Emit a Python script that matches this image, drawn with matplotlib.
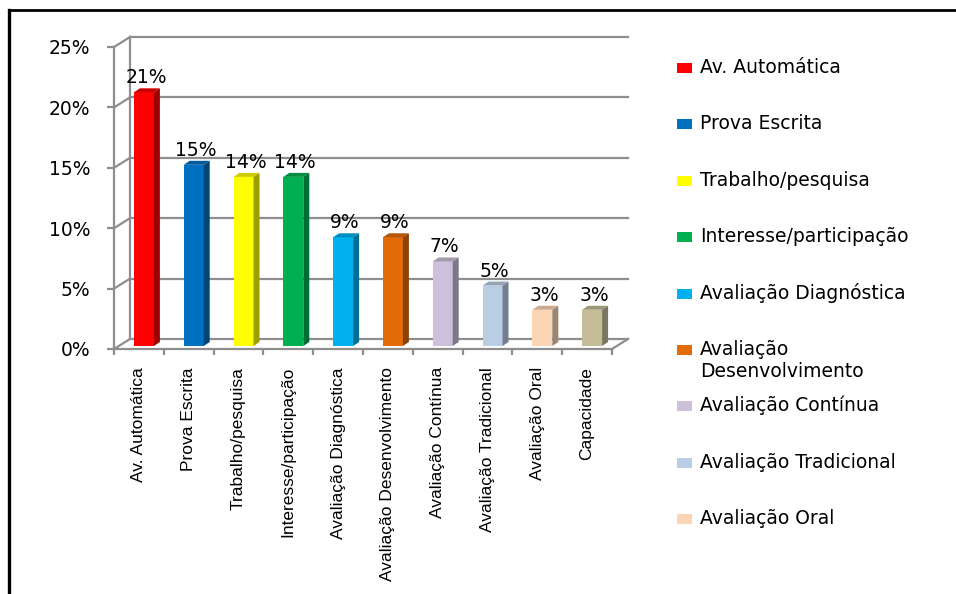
import textwrap
import matplotlib
matplotlib.use("Agg")
import matplotlib.pyplot as plt
import matplotlib.colors as mcolors
from matplotlib.patches import Polygon, Rectangle
from matplotlib.lines import Line2D

categories = ["Av. Automática", "Prova Escrita", "Trabalho/pesquisa", "Interesse/participação",
              "Avaliação Diagnóstica", "Avaliação Desenvolvimento", "Avaliação Contínua",
              "Avaliação Tradicional", "Avaliação Oral", "Capacidade"]
values = [0.21, 0.15, 0.14, 0.14, 0.09, 0.09, 0.07, 0.05, 0.03, 0.03]
colors = ["#FF0000", "#0070C0", "#FFFF00", "#00B050", "#00B0F0", "#E36C09",
          "#CCC0DA", "#B9CDE5", "#FCD5B5", "#C4BD97"]
yticks = [0, 0.05, 0.10, 0.15, 0.20, 0.25]
ytick_labels = ["0%", "5%", "10%", "15%", "20%", "25%"]
legend_count = 9  # legend entries visible (last one cut off in original)

W, H = 956, 594
fig = plt.figure(figsize=(W / 100, H / 100), dpi=100)
fig.patch.set_facecolor("white")

# axes = front plane of the pseudo-3D chart
ax_l, ax_r, ax_b, ax_t = 114, 612, 349, 47
ax = fig.add_axes([ax_l / W, 1 - ax_b / H, (ax_r - ax_l) / W, (ax_b - ax_t) / H])
ax.set_xlim(0, len(categories))
ax.set_ylim(0, 0.25)
ax.set_facecolor("none")
px = len(categories) / (ax_r - ax_l)   # data units per pixel (x)
py = 0.25 / (ax_b - ax_t)              # data units per pixel (y)

grid_c = "#8e8e8e"
glw = 1.6
bdx, bdy = 16 * px, 10 * py   # back wall offset

for s in ["top", "right"]:
    ax.spines[s].set_visible(False)
for s in ["left", "bottom"]:
    ax.spines[s].set_color(grid_c)
    ax.spines[s].set_linewidth(glw)

# back wall gridlines and side-wall slants
n = len(categories)
for y in yticks:
    ax.add_line(Line2D([bdx, n + bdx], [y + bdy, y + bdy], color=grid_c, lw=glw, clip_on=False, zorder=1))
    ax.add_line(Line2D([0, bdx], [y, y + bdy], color=grid_c, lw=glw, clip_on=False, zorder=1))
ax.add_line(Line2D([bdx, bdx], [bdy, 0.25 + bdy], color=grid_c, lw=glw, clip_on=False, zorder=1))
ax.add_line(Line2D([n, n + bdx], [0, bdy], color=grid_c, lw=glw, clip_on=False, zorder=1))

# ticks
ax.set_yticks(yticks)
ax.set_yticklabels(ytick_labels, fontsize=13.5, family="DejaVu Sans")
ax.tick_params(axis="y", length=5, width=glw, color=grid_c, pad=12)
centers = [i + 0.5 for i in range(n)]
ax.set_xticks(centers)
ax.set_xticklabels(categories, rotation=90, fontsize=12.5, family="Liberation Sans")
ax.tick_params(axis="x", which="major", length=0, pad=13)
ax.set_xticks(list(range(n + 1)), minor=True)
ax.tick_params(axis="x", which="minor", length=4, width=glw, color=grid_c, direction="out")

# bars (front face + side + top)
off_x, off_y = 5 * px, 3 * py
bw = 20 * px
dx, dy = 6 * px, 4 * py
for xc, v, c in zip(centers, values, colors):
    rgb = mcolors.to_rgb(c)
    side = tuple(ch * 0.62 for ch in rgb)
    top = tuple(ch * 0.8 for ch in rgb)
    ax.bar(xc + off_x, v, width=bw, bottom=off_y, color=c, zorder=3, clip_on=False)
    xl = xc + off_x - bw / 2
    xr = xc + off_x + bw / 2
    b = off_y
    ax.add_patch(Polygon([(xr, b), (xr + dx, b + dy), (xr + dx, b + v + dy), (xr, b + v)],
                         closed=True, facecolor=side, edgecolor="none", zorder=3, clip_on=False))
    ax.add_patch(Polygon([(xl, b + v), (xr, b + v), (xr + dx, b + v + dy), (xl + dx, b + v + dy)],
                         closed=True, facecolor=top, edgecolor="none", zorder=3, clip_on=False))
    ax.text(xc + off_x + 2 * px, b + v + 9 * py, f"{round(v * 100)}%", ha="center", va="baseline",
            fontsize=13.5, family="DejaVu Sans", zorder=4, clip_on=False)

# legend (manual, Excel-like)
y0, step, lh = 68, 56.4, 22
for k in range(legend_count):
    yc = y0 + step * k
    fig.patches.append(Rectangle((677 / W, 1 - (yc + 5) / H), 15 / W, 10 / H,
                                 transform=fig.transFigure, facecolor=colors[k], edgecolor="none"))
    for j, line in enumerate(textwrap.wrap(categories[k], 22)):
        fig.text(700 / W, 1 - (yc + 5 + lh * j) / H, line, ha="left", va="baseline",
                 fontsize=13.5, family="DejaVu Sans")

# outer frame (left + top)
fig.lines.append(Line2D([9 / W, 9 / W], [0, 1 - 10 / H], transform=fig.transFigure, color="black", lw=2.4))
fig.lines.append(Line2D([9 / W, 1], [1 - 10 / H, 1 - 10 / H], transform=fig.transFigure, color="black", lw=2))

fig.savefig("out.png", dpi=100)
